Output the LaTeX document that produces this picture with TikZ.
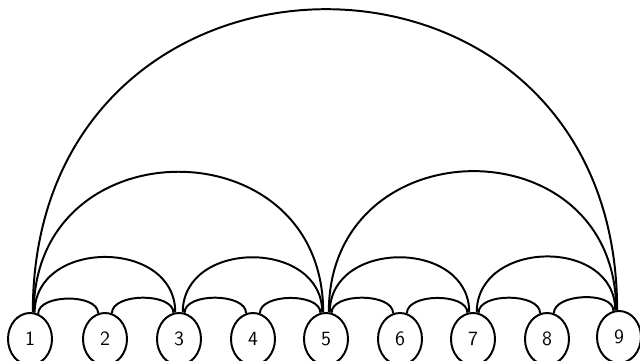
\documentclass[tikz,border=0pt]{standalone}
\usepackage{tikz}
\usetikzlibrary{shapes.geometric}

\begin{document}
\begin{tikzpicture}[x=0.025cm, y=0.025cm,
  state/.style={draw, ellipse, line width=1.4pt, minimum width=1.1cm,
                minimum height=1.3cm, inner sep=0pt, font=\Large\sffamily},
  link/.style={line width=1.4pt}]
  \useasboundingbox (0,0) rectangle (640,361);
  % the nine nodes along the bottom
  \node[state] (n1) at (30,22)  {1};
  \node[state] (n2) at (105,22) {2};
  \node[state] (n3) at (179,22) {3};
  \node[state] (n4) at (253,22) {4};
  \node[state] (n5) at (326,22) {5};
  \node[state] (n6) at (400,22) {6};
  \node[state] (n7) at (473,22) {7};
  \node[state] (n8) at (547,22) {8};
  \node[state] (n9) at (619,24) {9};
  % neighbours
  \draw[link] (n1.72) to[out=90, in=90, looseness=0.85] (n2.105);
  \draw[link] (n2.75) to[out=90, in=90, looseness=0.85] (n3.102);
  \draw[link] (n3.78) to[out=90, in=90, looseness=0.85] (n4.105);
  \draw[link] (n4.75) to[out=90, in=90, looseness=0.85] (n5.102);
  \draw[link] (n5.78) to[out=90, in=90, looseness=0.85] (n6.105);
  \draw[link] (n6.75) to[out=90, in=90, looseness=0.85] (n7.102);
  \draw[link] (n7.78) to[out=90, in=90, looseness=0.85] (n8.105);
  \draw[link] (n8.75) to[out=90, in=90, looseness=0.85] (n9.102);
  % two apart
  \draw[link] (n1.80) to[out=90, in=90, looseness=1.35] (n3.98);
  \draw[link] (n3.82) to[out=90, in=90, looseness=1.35] (n5.98);
  \draw[link] (n5.82) to[out=90, in=90, looseness=1.35] (n7.98);
  \draw[link] (n7.82) to[out=90, in=90, looseness=1.35] (n9.98);
  % four apart
  \draw[link] (n1.82) to[out=90, in=90, looseness=1.66] (n5.96);
  \draw[link] (n5.84) to[out=90, in=90, looseness=1.66] (n9.96);
  % end to end
  \draw[link] (n1.84) to[out=90, in=90, looseness=1.76] (n9.94);
\end{tikzpicture}
\end{document}
